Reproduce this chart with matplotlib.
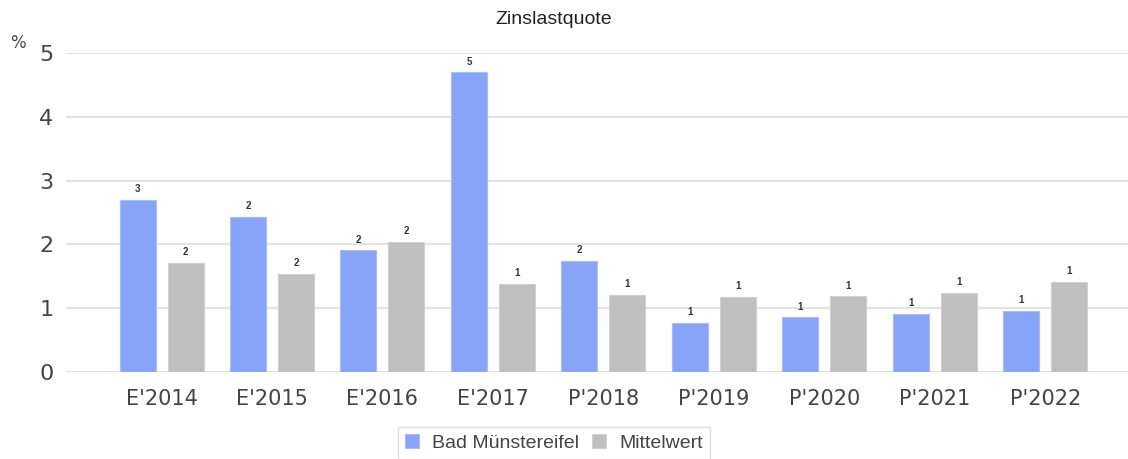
import matplotlib
matplotlib.use("Agg")
import matplotlib.pyplot as plt
import numpy as np

categories = ["E'2014", "E'2015", "E'2016", "E'2017", "P'2018", "P'2019", "P'2020", "P'2021", "P'2022"]
bad_muenstereifel = [2.70, 2.43, 1.91, 4.70, 1.74, 0.77, 0.86, 0.91, 0.96]
mittelwert = [1.71, 1.54, 2.04, 1.38, 1.21, 1.18, 1.19, 1.24, 1.41]
series_names = ["Bad Münstereifel", "Mittelwert"]
yticks = [0, 1, 2, 3, 4, 5]

W, H = 1128, 459
fig = plt.figure(figsize=(W / 100, H / 100), dpi=100)
ax = fig.add_axes([66 / W, 1 - 372 / H, (1128 - 66) / W, (372 - 53) / H])

x = np.arange(len(categories))
bw = 0.326
off = 0.217
blue = "#88a4f8"
gray = "#bfbfbf"
b1 = ax.bar(x - off, bad_muenstereifel, bw, color=blue, edgecolor="#a9bdfb", linewidth=0.8, zorder=3,
            label=series_names[0])
b2 = ax.bar(x + off, mittelwert, bw, color=gray, edgecolor="#d0d0d0", linewidth=0.8, zorder=3,
            label=series_names[1])

for bars, vals in ((b1, bad_muenstereifel), (b2, mittelwert)):
    for rect, v in zip(bars, vals):
        ax.annotate(f"{int(round(v))}", (rect.get_x() + rect.get_width() / 2, v),
                    xytext=(0, 4), textcoords="offset points", ha="center", va="bottom",
                    fontsize=7, color="#333333", fontweight="bold", family="Liberation Sans")

ax.set_xlim(-0.865, 8.75)
ax.set_ylim(0, 5)
ax.set_yticks(yticks)
ax.set_xticks(x)
ax.set_xticklabels(categories, fontsize=15, color="#444444", family="DejaVu Sans")
ax.set_yticklabels([str(t) for t in yticks], fontsize=16, color="#444444", family="DejaVu Sans")
ax.tick_params(axis="both", length=0)
ax.tick_params(axis="y", pad=9)
ax.tick_params(axis="x", pad=12)
ax.grid(axis="y", color="#e3e3e3", linewidth=1.5, zorder=0)
ax.set_axisbelow(True)
for s in ax.spines.values():
    s.set_visible(False)

fig.text(554 / W, 1 - 19 / H, "Zinslastquote", ha="center", va="center", fontsize=14,
         family="Liberation Sans", color="#222222")
fig.text(18 / W, 1 - 43 / H, "%", ha="center", va="center", fontsize=12, color="#444444",
         family="DejaVu Sans")

leg = fig.legend(handles=[b1, b2], labels=series_names, loc="upper center",
                 bbox_to_anchor=(554 / W, 1 - 427 / H), ncol=2, frameon=True,
                 prop={"family": "Liberation Sans", "size": 14}, handlelength=0.72,
                 handleheight=0.72, handletextpad=0.67, columnspacing=0.67, borderpad=0.36,
                 fancybox=False, borderaxespad=0)
leg.get_frame().set_edgecolor("#d8d8d8")
leg.get_frame().set_linewidth(1.0)
for t in leg.get_texts():
    t.set_color("#444444")

fig.savefig("out.png", dpi=100)
